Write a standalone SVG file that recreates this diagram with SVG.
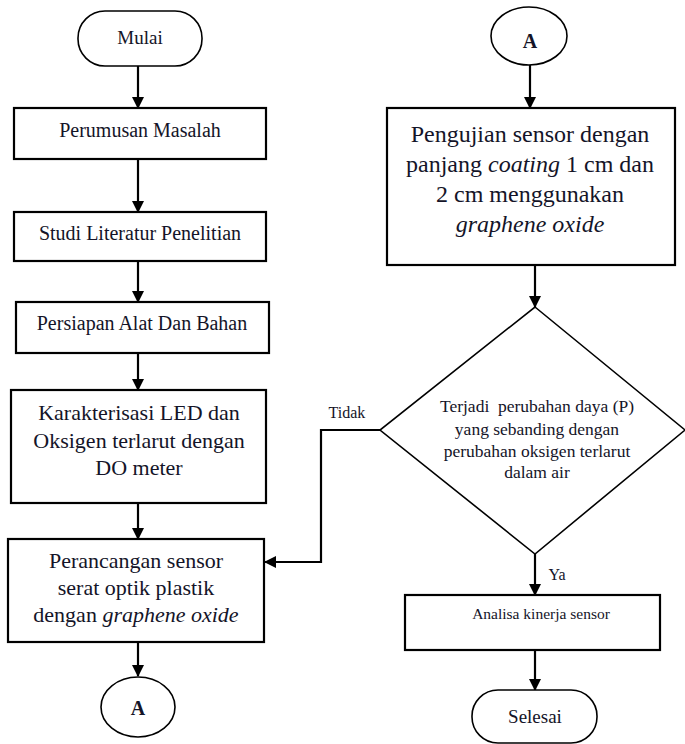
<svg xmlns="http://www.w3.org/2000/svg" width="685" height="744" viewBox="0 0 685 744" font-family="'Liberation Serif', 'DejaVu Serif', serif">
<style>
.box{fill:#fff;stroke:#000;stroke-width:2.2}
.thin{stroke-width:1.6}
.dia{fill:#fff;stroke:#000;stroke-width:1.6}
.ln{fill:none;stroke:#000;stroke-width:2.2}
text{font-family:'Liberation Serif', 'DejaVu Serif', serif;fill:#141428;text-anchor:middle}
.t19{font-size:19px}
.t20{font-size:20px}
.t22{font-size:22px}
.t24{font-size:24px}
.t17{font-size:17.5px}
.t16{font-size:16px}
.t155{font-size:15.5px}
.it{font-style:italic}
.b{font-weight:bold}
</style>
<defs>
<marker id="ah" markerWidth="12" markerHeight="12" refX="11" refY="6" orient="auto" markerUnits="userSpaceOnUse">
<path d="M0,0 L12,6 L0,12 Z" fill="#000"/>
</marker>
</defs>
<rect width="685" height="744" fill="#fff"/>
<g id="connectors">
<line class="ln" x1="138" y1="66" x2="138" y2="108" marker-end="url(#ah)"/>
<line class="ln" x1="138" y1="159" x2="138" y2="212" marker-end="url(#ah)"/>
<line class="ln" x1="138" y1="261" x2="138" y2="302" marker-end="url(#ah)"/>
<line class="ln" x1="138" y1="353" x2="138" y2="390" marker-end="url(#ah)"/>
<line class="ln" x1="138" y1="503" x2="138" y2="539" marker-end="url(#ah)"/>
<line class="ln" x1="138" y1="642" x2="138" y2="676" marker-end="url(#ah)"/>
<line class="ln" x1="530" y1="65" x2="530" y2="108" marker-end="url(#ah)"/>
<line class="ln" x1="535" y1="265" x2="535" y2="307" marker-end="url(#ah)"/>
<polyline class="ln" points="380,430 321,430 321,562 265,562" marker-end="url(#ah)"/>
<line class="ln" x1="535" y1="554" x2="535" y2="595" marker-end="url(#ah)"/>
<line class="ln" x1="535" y1="650" x2="535" y2="690" marker-end="url(#ah)"/>
<text class="t16" x="347" y="418">Tidak</text>
<text class="t16" x="557" y="580">Ya</text>
</g>
<g id="mulai">
<rect class="box thin" x="78" y="11" width="124" height="55" rx="27" ry="27"/>
<text class="t19" x="140" y="44">Mulai</text>
</g>
<g id="perumusan">
<rect class="box" x="14" y="108" width="252" height="51"/>
<text class="t20" x="140" y="137">Perumusan Masalah</text>
</g>
<g id="studi">
<rect class="box" x="14" y="212" width="252" height="49"/>
<text class="t20" x="140" y="240">Studi Literatur Penelitian</text>
</g>
<g id="persiapan">
<rect class="box" x="16" y="302" width="253" height="51"/>
<text class="t20" x="142" y="330">Persiapan Alat Dan Bahan</text>
</g>
<g id="karakterisasi">
<rect class="box" x="11" y="390" width="255" height="113"/>
<text class="t22" x="139" y="420">Karakterisasi LED dan</text>
<text class="t22" x="139" y="448">Oksigen terlarut dengan</text>
<text class="t22" x="139" y="475">DO meter</text>
</g>
<g id="perancangan">
<rect class="box" x="8" y="539" width="256" height="103"/>
<text class="t22" x="136" y="568">Perancangan sensor</text>
<text class="t22" x="136" y="595">serat optik plastik</text>
<text class="t22" x="136" y="622">dengan <tspan class="it">graphene oxide</tspan></text>
</g>
<g id="a-left">
<ellipse class="box thin" cx="138" cy="707" rx="37" ry="30"/>
<text class="t20 b" x="138" y="715">A</text>
</g>
<g id="a-right">
<ellipse class="box thin" cx="529" cy="36" rx="38" ry="29"/>
<text class="t20 b" x="530" y="48">A</text>
</g>
<g id="pengujian">
<rect class="box" x="387" y="108" width="288" height="157"/>
<text class="t24" x="530" y="142">Pengujian sensor dengan</text>
<text class="t24" x="530" y="172">panjang <tspan class="it">coating</tspan> 1 cm dan</text>
<text class="t24" x="530" y="202">2 cm menggunakan</text>
<text class="t24 it" x="530" y="232">graphene oxide</text>
</g>
<g id="keputusan">
<polygon class="dia" points="535,307 685,430 535,554 380,430"/>
<text class="t17" x="537" y="412" xml:space="preserve">Terjadi  perubahan daya (P)</text>
<text class="t17" x="537" y="435">yang sebanding dengan</text>
<text class="t17" x="537" y="457">perubahan oksigen terlarut</text>
<text class="t17" x="537" y="478">dalam air</text>
</g>
<g id="analisa">
<rect class="box" x="405" y="595" width="255" height="55"/>
<text class="t155" x="541" y="619">Analisa kinerja sensor</text>
</g>
<g id="selesai">
<rect class="box thin" x="472" y="690" width="125" height="53" rx="26" ry="26"/>
<text class="t19" x="535" y="723">Selesai</text>
</g>
</svg>
